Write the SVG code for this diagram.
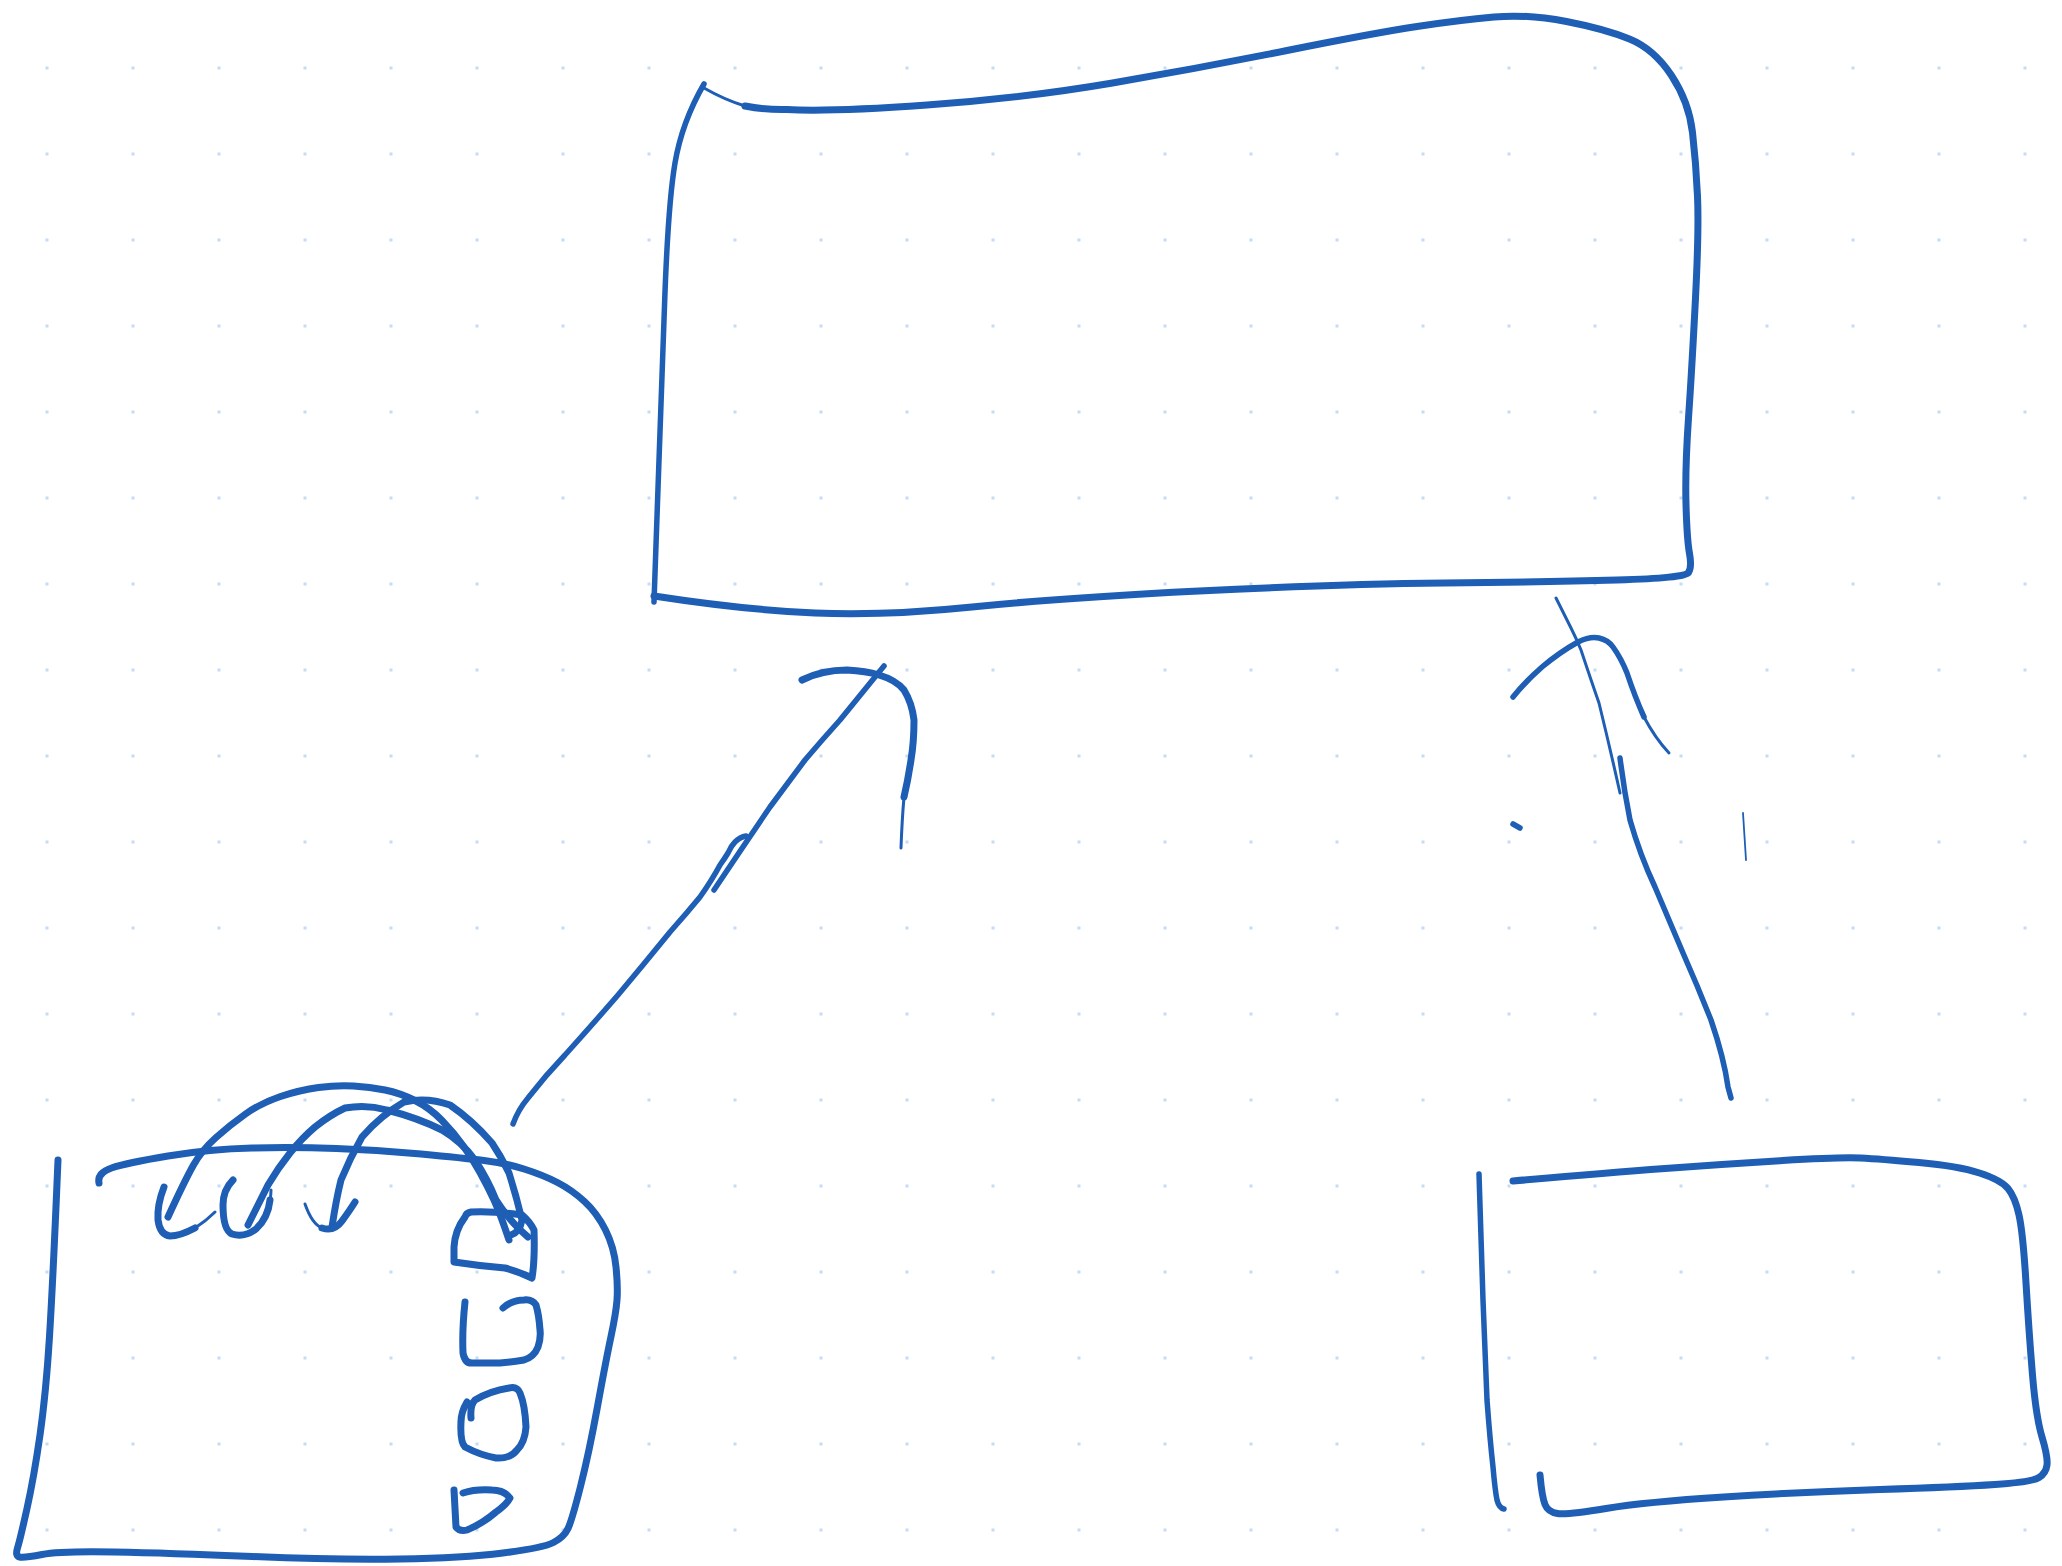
<svg xmlns="http://www.w3.org/2000/svg" width="2062" height="1566" viewBox="0 0 2062 1566">
<defs>
<pattern id="dots" patternUnits="userSpaceOnUse" x="0" y="0" width="86" height="86">
<rect x="45.5" y="66.5" width="3" height="3" fill="#c6dbf8"/>
</pattern>
<style>
.s{fill:none;stroke:#1e5eb4;stroke-width:7;stroke-linecap:round;stroke-linejoin:round}
.m{fill:none;stroke:#1e5eb4;stroke-width:5.5;stroke-linecap:round;stroke-linejoin:round}
.t{fill:none;stroke:#1e5eb4;stroke-width:3;stroke-linecap:round;stroke-linejoin:round}
.h{fill:none;stroke:#1e5eb4;stroke-width:1.8;stroke-linecap:round;stroke-linejoin:round}
</style>
</defs>
<rect width="2062" height="1566" fill="#ffffff"/>
<rect width="2062" height="1566" fill="url(#dots)"/>

<g id="node-top-box">
<path class="t" d="M704,88 Q725,100 745,106"/>
<path class="s" d="M745,106 Q765,110 787,109.5 Q829,112 927,105 Q1025,98 1112.5,83 Q1200,68 1287,50.5 Q1374,33 1417,26.5 Q1460,20 1494,17 Q1528,14 1566.5,21.5 Q1605,29 1629.5,39 Q1654,49 1671.5,75.5 Q1689,102 1692.5,132.5 Q1696,163 1697.5,196 Q1699,229 1695.5,298 Q1692,367 1688.5,418 Q1685,469 1686,504.5 Q1687,540 1689.5,553.5 Q1692,567 1688.5,572.5 Q1685,578 1617,580 Q1549,582 1444,583 Q1339,584 1199,591 Q1059,598 972,607 Q885,616 815,613 Q745,610 654,596"/>
<path class="m" d="M654,602 Q656,540 658.5,474 Q661,408 664.5,306 Q668,204 675,163 Q682,122 704,84"/>
</g>

<g id="node-bag">
<path class="s" d="M58,1160 Q53,1280 49.5,1336.5 Q46,1393 40,1435 Q34,1477 27,1508.5 Q20,1540 17.5,1548 Q15,1556 19.5,1557 Q24,1558 42,1554.5 Q60,1551 114,1552 Q168,1553 252.5,1556.5 Q337,1560 400,1559 Q463,1558 503,1553 Q543,1548 553.5,1542.5 Q564,1537 568,1528.5 Q572,1520 580.5,1486.5 Q589,1453 597.5,1406.5 Q606,1360 611,1336.5 Q616,1313 617,1300 Q618,1287 616,1267 Q614,1247 605.5,1230 Q597,1213 584.5,1201.5 Q572,1190 557.5,1182.5 Q543,1175 524,1169 Q505,1163 484,1160.5 Q463,1158 421,1154 Q379,1150 336.5,1148.5 Q294,1147 252,1148 Q210,1149 168,1156 Q126,1163 111.5,1168 Q97,1173 99,1183"/>
<path class="s" d="M168,1217 Q185,1180 193.5,1165 Q202,1150 216,1137.5 Q230,1125 245.5,1114 Q261,1103 280.5,1096.5 Q300,1090 318.5,1087.5 Q337,1085 353.5,1086 Q370,1087 385,1090 Q400,1093 415,1100.5 Q430,1108 442,1120.5 Q454,1133 463,1145.5 Q472,1158 480,1172.5 Q488,1187 494,1200 Q500,1213 509,1240"/>
<path class="s" d="M248,1225 Q258,1205 268,1185 Q278,1168 290,1153 Q302,1138 315,1127 Q330,1115 345,1108 Q366,1104 387,1110 Q418,1118 442,1130 Q462,1142 475,1160 Q488,1180 496,1200 Q510,1222 528,1237"/>
<path class="s" d="M332,1227 Q336,1200 341,1180 Q350,1158 362,1137 Q380,1116 404,1102 Q427,1097 450,1105 Q472,1120 492,1143 Q502,1158 509,1173 Q516,1195 522,1220 Q520,1232 511,1235"/>
<path class="s" d="M164,1187 Q157,1205 158,1220 Q160,1235 170,1236 Q180,1236 195,1228"/>
<path class="t" d="M195,1228 Q206,1221 215,1212"/>
<path class="s" d="M233,1180 Q223,1190 223,1205 Q223,1230 232,1234 Q244,1238 256,1229 Q268,1218 270,1200"/>
<path class="t" d="M270,1200 Q271,1195 271,1190"/>
<path class="t" d="M305,1204 Q312,1224 322,1228"/>
<path class="s" d="M322,1228 Q334,1232 342,1221 Q350,1210 355,1202"/>
<path class="s" d="M465,1217 Q455,1230 454,1247 L454,1262 Q480,1266 505,1268 Q520,1272 532,1278 Q535,1260 534,1230 Q530,1222 522,1215 Q495,1211 471,1212 Q466,1213 465,1217"/>
<path class="s" d="M465,1302 Q462,1330 463,1353 Q465,1364 473,1363 L500,1363 Q512,1362 524,1360 Q534,1357 538,1347 Q541,1338 540,1330 Q539,1315 536,1305 Q532,1299 524,1300 Q512,1300 503,1308"/>
<path class="s" d="M467,1402 Q461,1412 461,1422 Q460,1442 465,1447 Q480,1455 496,1458 Q510,1459 517,1450 Q525,1442 526,1427 Q525,1405 520,1393 Q517,1386 509,1388 Q490,1391 475,1400 Q470,1405 471,1418"/>
<path class="s" d="M454,1490 L456,1527 Q460,1532 467,1530 Q482,1524 496,1512 Q507,1504 510,1498 Q504,1490 492,1490 Q475,1489 463,1493"/>
</g>

<g id="node-right-box">
<path class="m" d="M1479,1174 Q1481,1237 1483,1300 Q1485,1350 1487,1400 Q1490,1440 1493,1467 Q1495,1490 1497,1500 Q1499,1508 1504,1509"/>
<path class="s" d="M1513,1181 Q1606,1173 1665,1168.5 Q1724,1164 1782.5,1160.5 Q1841,1157 1860.5,1158 Q1880,1159 1919,1162.5 Q1958,1166 1979.5,1173 Q2001,1180 2008,1188.5 Q2015,1197 2019,1215 Q2023,1233 2026,1283 Q2029,1333 2032.5,1375 Q2036,1417 2042,1437 Q2048,1457 2047,1465 Q2046,1473 2039,1477.5 Q2032,1482 1995,1484.5 Q1958,1487 1880,1489.5 Q1802,1492 1723.5,1497 Q1645,1502 1606,1508.5 Q1567,1515 1557.5,1513.5 Q1548,1512 1545,1504.5 Q1542,1497 1540,1475"/>
</g>

<g id="connectors">
<path class="m" d="M513,1124 Q518,1110 528,1098 Q545,1076 565,1055 Q592,1025 618,995 Q644,964 670,932 Q686,914 700,897 Q712,880 720,865 Q725,858 728,853 Q731,846 735,842 Q740,837 746,836"/>
<path class="m" d="M714,890 Q742,848 770,807 Q788,783 805,760 Q822,740 840,720 Q858,698 875,677 L884,666"/>
<path class="s" d="M802,680 Q822,670 847,670 Q866,671 879,675 Q896,680 904,690 Q912,703 914,720 Q914,742 911,760 Q908,780 904,797"/>
<path class="t" d="M904,797 Q902,820 901,848"/>
<path class="t" d="M1556,598 Q1566,618 1571,628 Q1577,640 1581,650 Q1591,680 1599,703 Q1610,748 1620,793"/>
<path class="m" d="M1620,758 Q1624,790 1630,820 Q1640,855 1655,887 Q1669,920 1683,953 Q1698,987 1711,1020 Q1724,1058 1728,1087 L1731,1098"/>
<path class="m" d="M1513,697 Q1525,682 1542,667 Q1560,652 1578,642 Q1590,636 1599,638 Q1608,640 1613,647 Q1621,658 1627,673 Q1635,697 1644,717"/>
<path class="t" d="M1644,717 Q1655,738 1669,753"/>
<path class="m" d="M1513,824 L1520,828"/>
<path class="h" d="M1743,813 L1746,860"/>
</g>
</svg>
